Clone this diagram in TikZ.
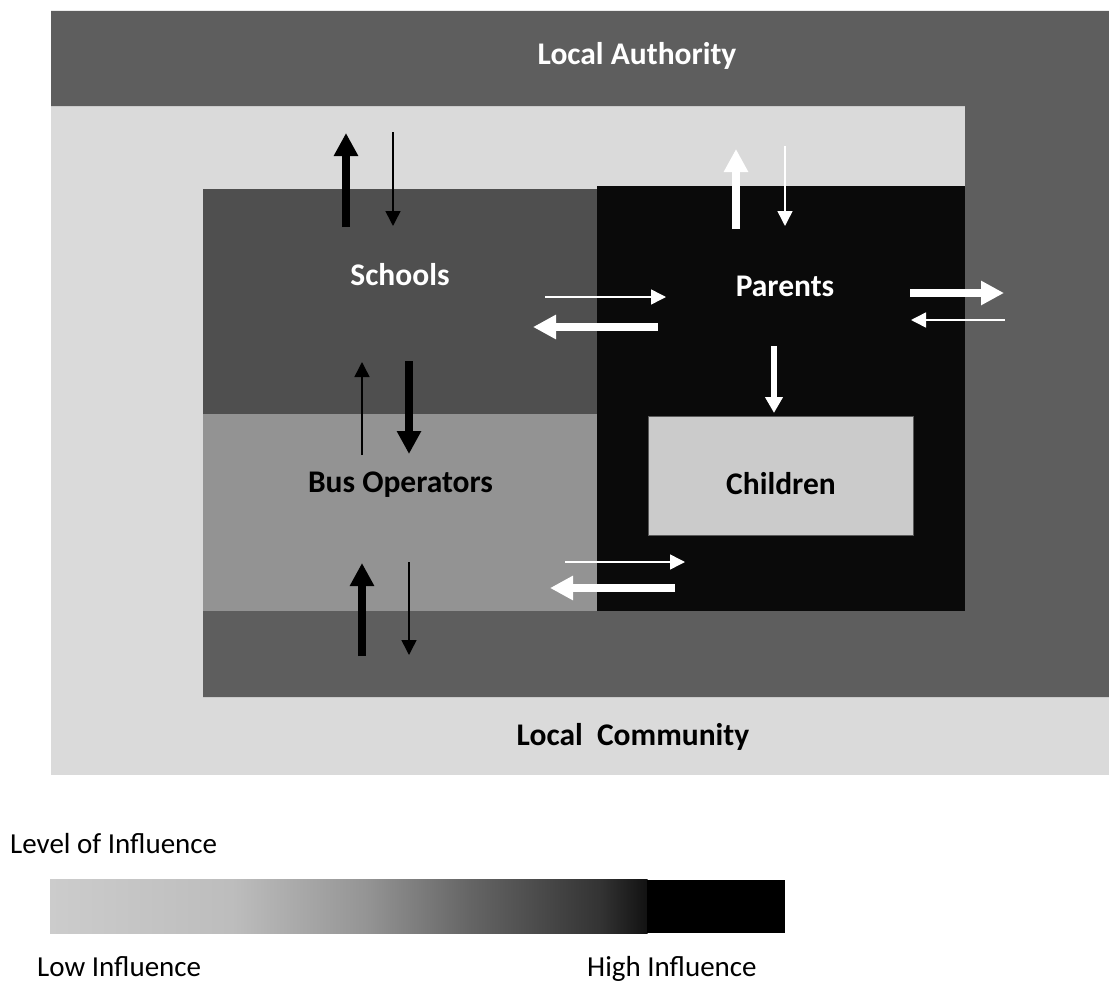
\documentclass[tikz,border=0pt]{standalone}
\usepackage{fontspec}
\setmainfont{Carlito}
\usetikzlibrary{arrows.meta}

\definecolor{community}{HTML}{DADADA}
\definecolor{authority}{HTML}{5E5E5E}
\definecolor{schoolfill}{HTML}{4F4F4F}
\definecolor{busfill}{HTML}{939393}
\definecolor{parentfill}{HTML}{0A0A0A}
\definecolor{childfill}{HTML}{CBCBCB}
\definecolor{childedge}{HTML}{5A5A5A}
\definecolor{g0}{gray}{0.80}
\definecolor{g1}{gray}{0.74}
\definecolor{g2}{gray}{0.58}
\definecolor{g3}{gray}{0.40}
\definecolor{g4}{gray}{0.20}
\definecolor{g5}{gray}{0.07}

\begin{document}
\begin{tikzpicture}[
  x=1pt, y=-1pt,
  heavy/.style={line width=8pt, -{Triangle[length=23pt,width=23pt]}},
  slim/.style={line width=1.5pt, -{Triangle[length=15pt,width=15pt]}},
  mid/.style={line width=6.5pt, -{Triangle[length=16pt,width=17pt]}},
  boxlabel/.style={font=\fontsize{31.5}{36}\selectfont\bfseries, anchor=base, inner sep=0pt},
  legendlabel/.style={font=\fontsize{29}{34}\selectfont, anchor=base west, inner sep=0pt}
]
\useasboundingbox (0,0) rectangle (1109,982);

% nested spheres of influence
\fill[community] (51,11) rectangle (1109,775);
\fill[authority] (51,11) -- (1109,11) -- (1109,697) -- (203,697) -- (203,611)
  -- (965,611) -- (965,106) -- (51,106) -- cycle;
\fill[schoolfill] (203,189) rectangle (597,414);
\fill[busfill] (203,414) rectangle (597,611);
\fill[parentfill] (597,186) rectangle (965,611);
\filldraw[fill=childfill, draw=childedge, line width=1pt] (648,416) rectangle (913,535);

% labels
\node[boxlabel, text=white] (authority) at (637,65) {Local Authority};
\node[boxlabel, text=white] (schools) at (400,285) {Schools};
\node[boxlabel, text=white] (parents) at (785,296) {Parents};
\node[boxlabel, text=black] (bus) at (400.5,492) {Bus Operators};
\node[boxlabel, text=black] (children) at (781,494) {Children};
\node[boxlabel, text=black] (community) at (633,745) {Local\ \ Community};

% arrow end points
\coordinate (s1a) at (346,227); \coordinate (s1b) at (346,133);
\coordinate (s2a) at (393,132); \coordinate (s2b) at (393,226);
\coordinate (b1a) at (362,455); \coordinate (b1b) at (362,362);
\coordinate (b2a) at (409,361); \coordinate (b2b) at (409,454);
\coordinate (b3a) at (362,656); \coordinate (b3b) at (362,563);
\coordinate (b4a) at (409,562); \coordinate (b4b) at (409,655);
\coordinate (p1a) at (545,297); \coordinate (p1b) at (666,297);
\coordinate (p2a) at (658,327); \coordinate (p2b) at (533,327);
\coordinate (p3a) at (736,229); \coordinate (p3b) at (736,149);
\coordinate (p4a) at (785,146); \coordinate (p4b) at (785,226);
\coordinate (p5a) at (910,293); \coordinate (p5b) at (1004,293);
\coordinate (p6a) at (1005,320); \coordinate (p6b) at (911,320);
\coordinate (p7a) at (774,346); \coordinate (p7b) at (774,413);
\coordinate (p8a) at (565,562); \coordinate (p8b) at (685,562);
\coordinate (p9a) at (675,588); \coordinate (p9b) at (550,588);

% black arrows (schools / bus operators)
\draw[heavy, black] (s1a) -- (s1b);
\draw[slim, black] (s2a) -- (s2b);
\draw[slim, black] (b1a) -- (b1b);
\draw[heavy, black] (b2a) -- (b2b);
\draw[heavy, black] (b3a) -- (b3b);
\draw[slim, black] (b4a) -- (b4b);

% white arrows (parents)
\draw[slim, white] (p1a) -- (p1b);
\draw[heavy, white] (p2a) -- (p2b);
\draw[heavy, white] (p3a) -- (p3b);
\draw[slim, white] (p4a) -- (p4b);
\draw[heavy, white] (p5a) -- (p5b);
\draw[slim, white] (p6a) -- (p6b);
\draw[mid, white] (p7a) -- (p7b);
\draw[slim, white] (p8a) -- (p8b);
\draw[heavy, white] (p9a) -- (p9b);

% legend
\node[legendlabel] (level) at (10,853) {Level of Influence};
\shade[left color=g0, right color=g1] (50,879) rectangle (233.5,933);
\shade[left color=g1, right color=g2] (233,879) rectangle (367.5,933);
\shade[left color=g2, right color=g3] (367,879) rectangle (467.5,933);
\shade[left color=g3, right color=g4] (467,879) rectangle (600.5,933);
\shade[left color=g4, right color=g5] (600,879) rectangle (647.5,933);
\fill[black] (647,880) rectangle (785,933);
\node[legendlabel] (low) at (37,976) {Low Influence};
\node[legendlabel] (high) at (587,976) {High Influence};
\end{tikzpicture}
\end{document}
